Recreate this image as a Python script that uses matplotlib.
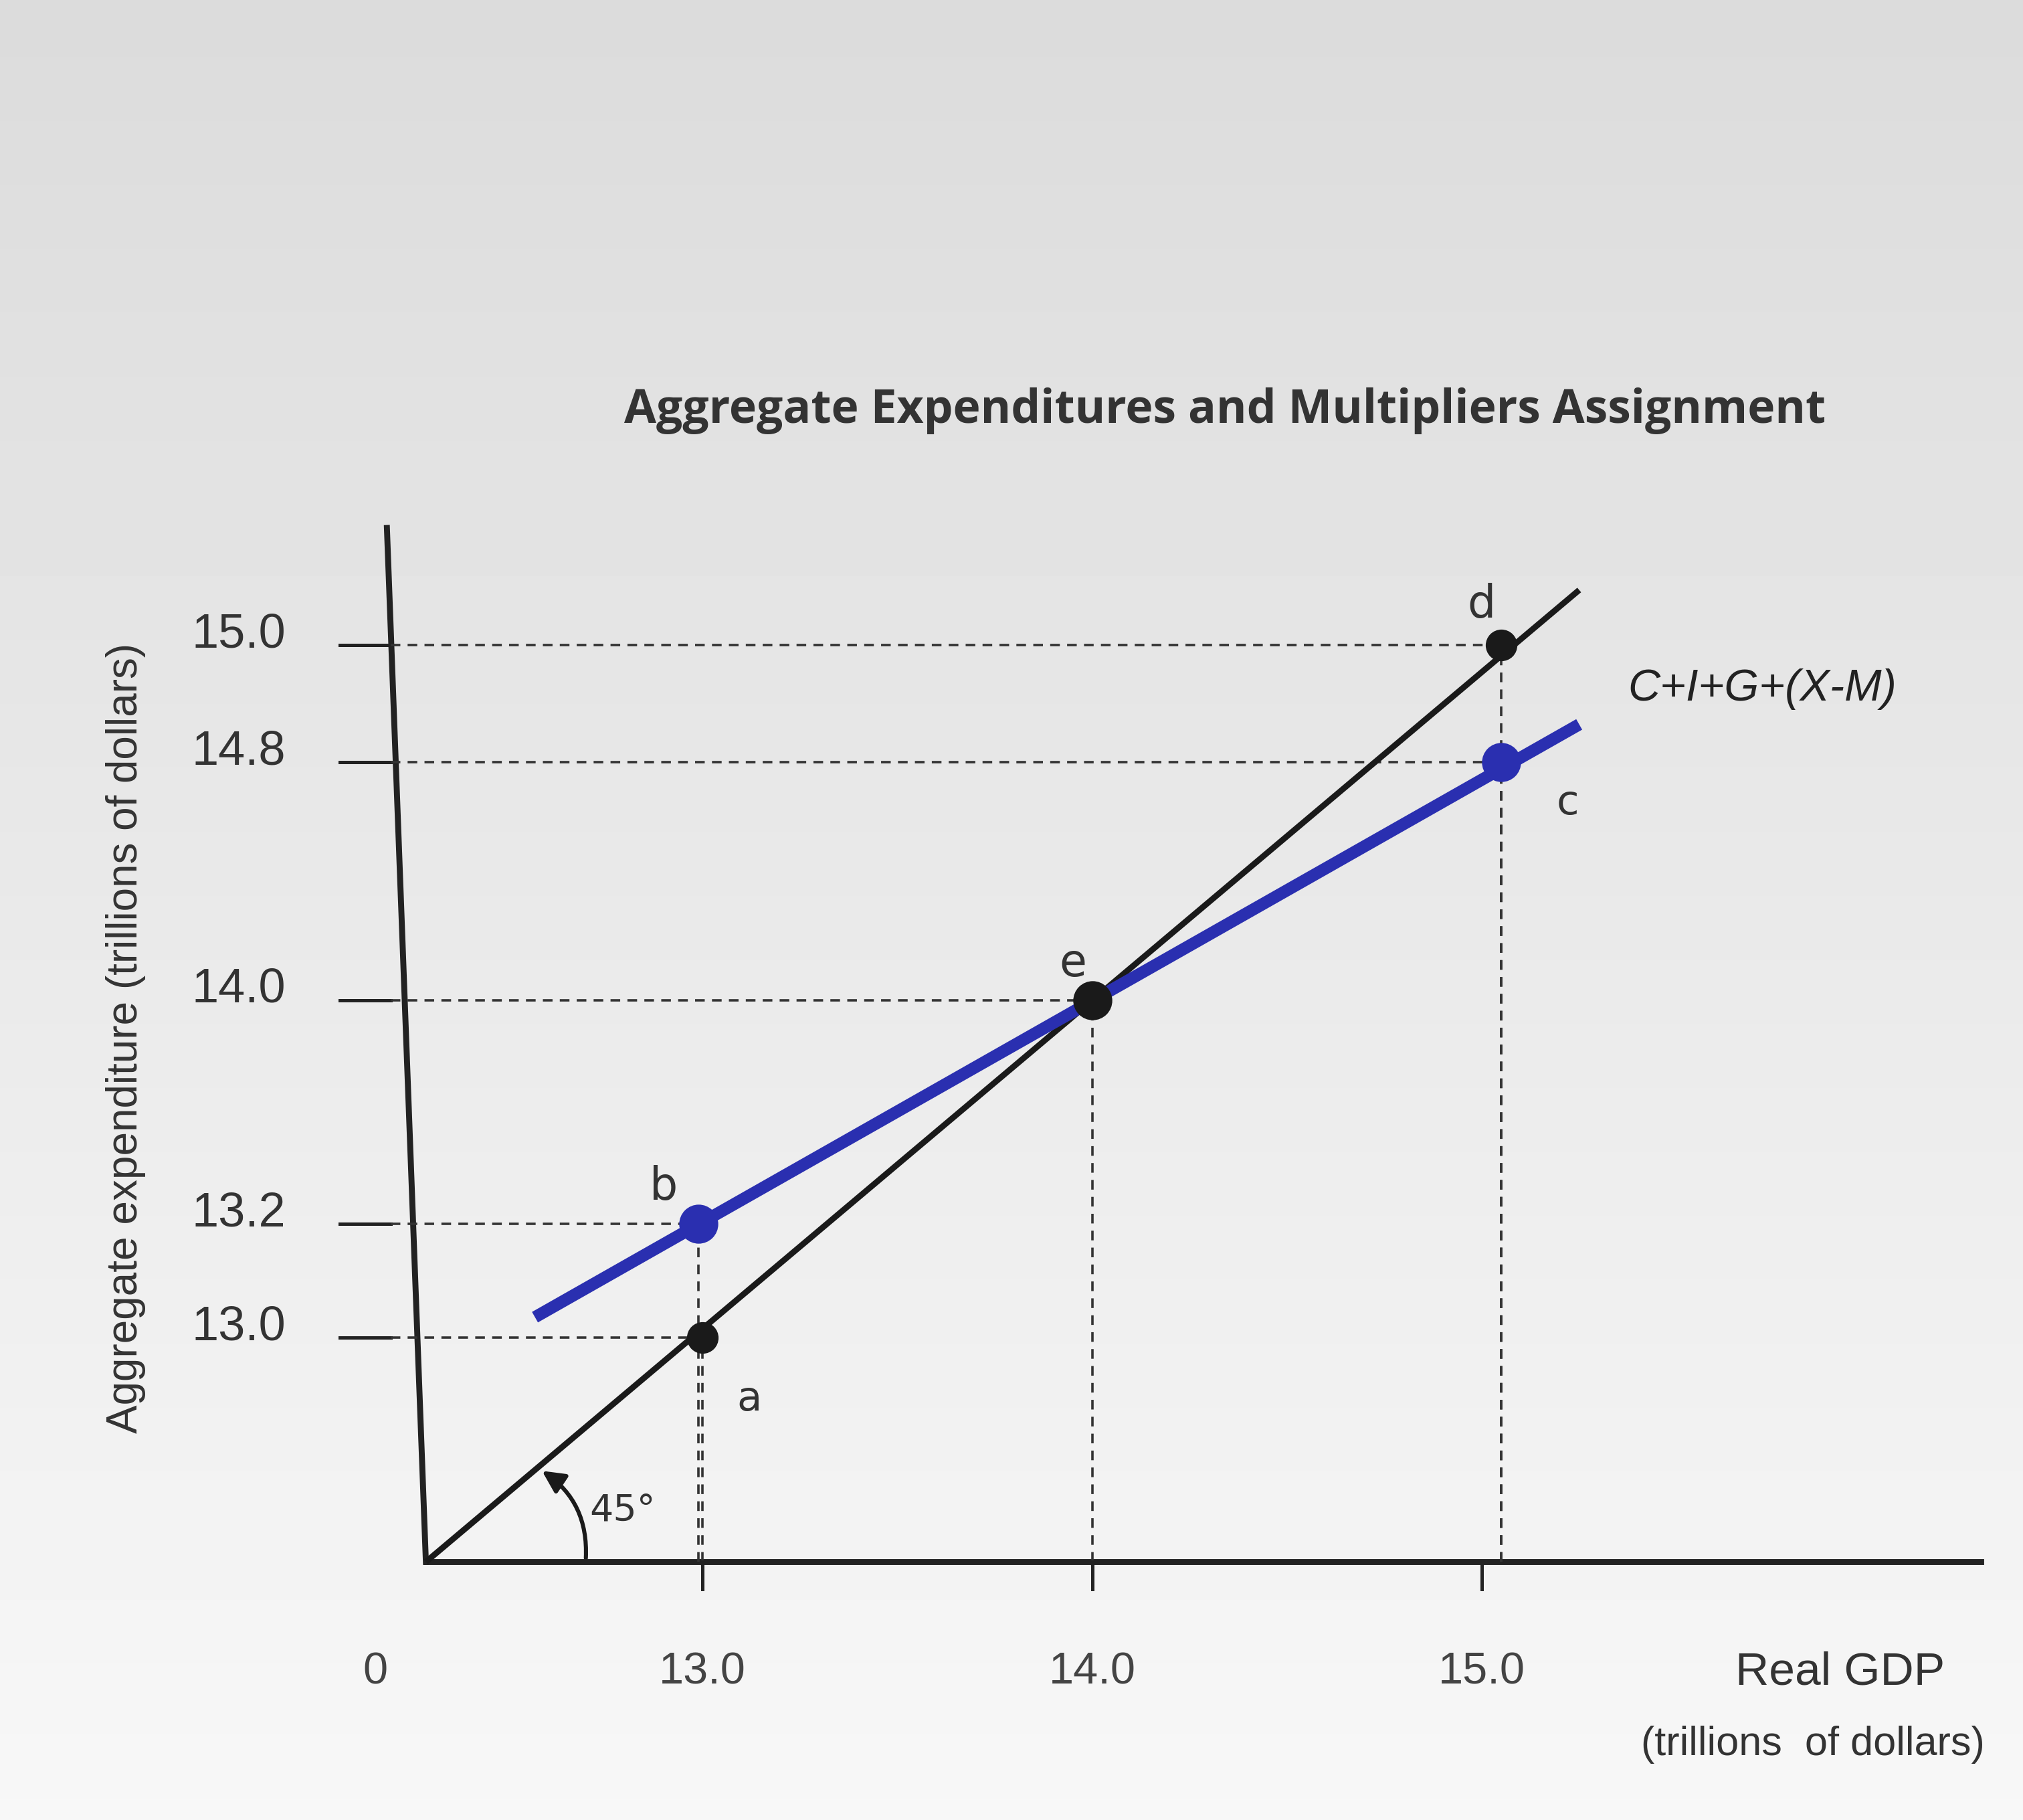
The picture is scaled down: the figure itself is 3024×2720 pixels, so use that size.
import matplotlib
matplotlib.use("Agg")
import matplotlib.pyplot as plt
import numpy as np
from matplotlib.patches import FancyArrowPatch

# ── Data (in trillions of dollars) ───────────────────────────────────────────
ORIGIN = (12.29, 12.33)
LINE45 = [(12.29, 12.33), (15.25, 15.15)]          # 45-degree line
AE_LINE = [(12.57, 13.04), (15.25, 14.76)]         # C+I+G+(X-M)
POINT_NAMES = ["a", "b", "c", "d", "e"]
POINT_X = [13.00, 12.99, 15.05, 15.05, 14.00]
POINT_Y = [12.98, 13.31, 14.65, 14.99, 13.96]
YTICK_POS = [12.98, 13.31, 13.96, 14.65, 14.99]
YTICK_LABELS = ["13.0", "13.2", "14.0", "14.8", "15.0"]
XTICK_POS = [13.0, 14.0, 15.0]
XTICK_LABELS = ["13.0", "14.0", "15.0"]

BLUE = "#2a2fb0"

fig = plt.figure(figsize=(15.12, 13.6), dpi=200)
# photographed-screen background: light grey fading to near white
bg = fig.add_axes([0, 0, 1, 1], zorder=-1)
grad = np.linspace(0.86, 0.97, 256).reshape(-1, 1)
bg.imshow(grad, cmap="gray", vmin=0, vmax=1, aspect="auto", extent=[0, 1, 0, 1])
bg.axis("off")

ax = fig.add_axes([0, 0, 1, 1])
ax.patch.set_alpha(0)
ax.set_xlim(11.197, 16.389)
ax.set_ylim(11.581, 16.862)
ax.axis("off")

# axes
ax.plot([12.19, ORIGIN[0]], [15.33, ORIGIN[1]], color="#222222", lw=3.2)
ax.plot([ORIGIN[0], 16.28], [ORIGIN[1], ORIGIN[1]], color="#222222", lw=3.2)

# y ticks and dashed guides
for yp, lab in zip(YTICK_POS, YTICK_LABELS):
    ax.plot([12.07, 12.2], [yp, yp], color="#222222", lw=1.8)
    ax.text(11.93, yp + 0.03, lab, ha="right", va="center", fontsize=26,
            color="#333333", family="Liberation Sans")
for x, y in zip(POINT_X, POINT_Y):
    ax.plot([12.2, x], [y, y], color="#333333", lw=1.3, ls=(0, (4, 3)))
    ax.plot([x, x], [ORIGIN[1], y], color="#333333", lw=1.3, ls=(0, (4, 3)))

# x ticks
for xp, lab in zip(XTICK_POS, XTICK_LABELS):
    ax.plot([xp, xp], [ORIGIN[1], ORIGIN[1] - 0.08], color="#222222", lw=1.8)
    ax.text(xp, ORIGIN[1] - 0.32, lab, ha="center", va="center", fontsize=24,
            color="#444444", family="Liberation Sans")
ax.text(12.16, ORIGIN[1] - 0.32, "0", ha="center", va="center", fontsize=24,
        color="#444444", family="Liberation Sans")
ax.text(15.92, ORIGIN[1] - 0.32, "Real GDP", ha="center", va="center",
        fontsize=25, color="#333333", family="Liberation Sans")
ax.text(15.85, ORIGIN[1] - 0.53, "(trillions  of dollars)", ha="center",
        va="center", fontsize=22, color="#333333", family="Liberation Sans")
ax.text(11.52, 13.85, "Aggregate expenditure (trillions of dollars)",
        rotation=90, ha="center", va="center", fontsize=23, color="#333333",
        family="Liberation Sans")

# lines
ax.plot(*zip(*LINE45), color="#1a1a1a", lw=3.2, solid_capstyle="butt")
ax.plot(*zip(*AE_LINE), color=BLUE, lw=6.5, solid_capstyle="butt")

# points
for name, x, y in zip(POINT_NAMES, POINT_X, POINT_Y):
    col = BLUE if name in ("b", "c") else "#1a1a1a"
    ms = 20 if name in ("b", "c", "e") else 16
    ax.plot(x, y, "o", color=col, ms=ms, zorder=5)
ax.text(13.12, 12.77, "a", fontsize=22, color="#333333", ha="center")
ax.text(12.9, 13.38, "b", fontsize=24, color="#333333", ha="center")
ax.text(15.22, 14.5, "c", fontsize=22, color="#333333", ha="center")
ax.text(15.0, 15.07, "d", fontsize=24, color="#333333", ha="center")
ax.text(13.95, 14.03, "e", fontsize=24, color="#333333", ha="center")
ax.text(15.72, 14.83, "C+I+G+(X-M)", fontsize=24, color="#222222",
        ha="center", style="italic", family="Liberation Sans")

# 45 degree marker
arc = FancyArrowPatch((12.7, ORIGIN[1]), (12.58, 12.6),
                      connectionstyle="arc3,rad=0.3", arrowstyle="-|>",
                      mutation_scale=25, color="#1a1a1a", lw=2.2)
ax.add_patch(arc)
ax.text(12.71, 12.45, "45°", fontsize=20, color="#333333")

ax.text(14.34, 15.67, "Aggregate Expenditures and Multipliers Assignment",
        ha="center", va="center", fontsize=25, fontweight="bold",
        color="#333333", family="Open Sans")

fig.savefig("out.png", dpi=200)
